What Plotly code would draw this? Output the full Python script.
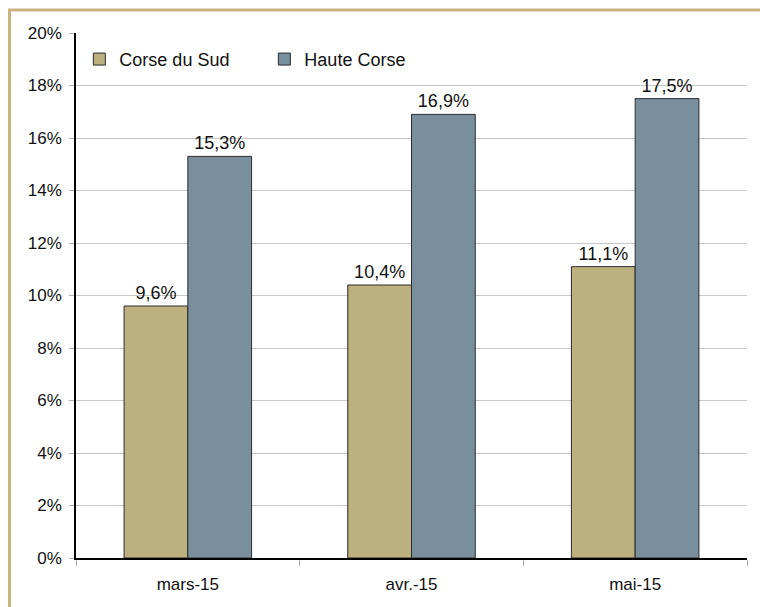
import plotly.graph_objects as go

months = ["mars-15", "avr.-15", "mai-15"]
corse_du_sud = [9.6, 10.4, 11.1]
haute_corse = [15.3, 16.9, 17.5]
y_ticks = [0, 2, 4, 6, 8, 10, 12, 14, 16, 18, 20]

def fmt(v):
    return f"{v:.1f}".replace(".", ",") + "%"

font_family = "Liberation Sans, Arial"

fig = go.Figure()
fig.add_trace(go.Bar(
    name="Corse du Sud", x=months, y=corse_du_sud,
    marker=dict(color="#BCB07F", line=dict(color="#2b2b2b", width=1)),
    text=[fmt(v) for v in corse_du_sud], textposition="outside",
    textfont=dict(size=18, color="#111", family=font_family), cliponaxis=False,
))
fig.add_trace(go.Bar(
    name="Haute Corse", x=months, y=haute_corse,
    marker=dict(color="#7A8F9E", line=dict(color="#2b2b2b", width=1)),
    text=[fmt(v) for v in haute_corse], textposition="outside",
    textfont=dict(size=18, color="#111", family=font_family), cliponaxis=False,
))

L, R, T, B = 76, 13, 33, 49
W, H = 760, 607
pw, ph = W - L - R, H - T - B

def px_x(x):
    return (x - L) / pw

def px_y(y):
    return (H - B - y) / ph

fig.update_layout(
    width=W, height=H,
    margin=dict(l=L, r=R, t=T, b=B),
    paper_bgcolor="white", plot_bgcolor="white",
    font=dict(family=font_family, size=16, color="#111"),
    barmode="group", bargap=0.43, bargroupgap=0,
    showlegend=True,
    legend=dict(orientation="h", x=0.005, y=0.985, xanchor="left", yanchor="top",
                font=dict(size=18), bgcolor="rgba(0,0,0,0)", itemwidth=30,
                entrywidth=140, entrywidthmode="pixels",
                traceorder="normal"),
    xaxis=dict(type="category", tickson="boundaries", ticks="outside", ticklen=6,
               tickcolor="#b0b0b0", showline=True, linecolor="black", linewidth=1.5,
               showgrid=False, tickfont=dict(size=17), ticklabelstandoff=10),
    yaxis=dict(range=[0, 20], tickvals=y_ticks, ticktext=[f"{v}%" for v in y_ticks],
               ticks="outside", ticklen=5, tickcolor="#b0b0b0",
               showline=True, linecolor="black", linewidth=1.5,
               showgrid=True, gridcolor="#c8c8c8", gridwidth=1,
               zeroline=False, tickfont=dict(size=17), ticklabelstandoff=4),
    shapes=[dict(type="rect", xref="paper", yref="paper",
                 x0=px_x(9.5), x1=px_x(800), y0=px_y(650), y1=px_y(10),
                 line=dict(color="#C9B47F", width=3), fillcolor="rgba(0,0,0,0)",
                 layer="below")],
)

fig.write_html("out.html", config={"displayModeBar": False},
               post_script="document.body.style.margin='0';document.body.style.padding='0';")
